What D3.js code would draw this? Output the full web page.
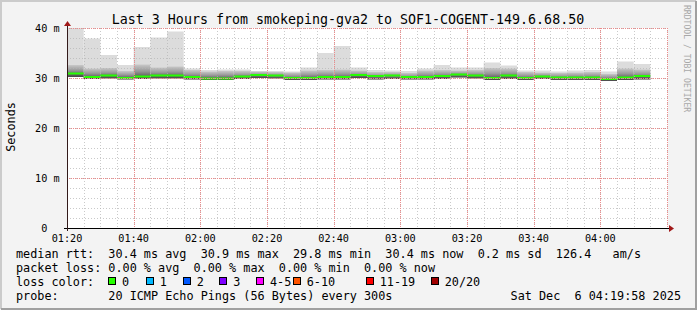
<!DOCTYPE html>
<html>
<head>
<meta charset="utf-8">
<script src="https://cdn.jsdelivr.net/npm/d3@7"></script>
<style>
	body { margin: 0; background: #f3f3f3; }
	text { font-family: "DejaVu Sans Mono", monospace; white-space: pre; }
</style>
</head>
<body>
<div id="graph"></div>
<script>
//---------------- data ----------------------
var stepStarts = ["01:20", "01:25", "01:30", "01:35", "01:40", "01:45", "01:50", "01:55",
	"02:00", "02:05", "02:10", "02:15", "02:20", "02:25", "02:30", "02:35",
	"02:40", "02:45", "02:50", "02:55", "03:00", "03:05", "03:10", "03:15",
	"03:20", "03:25", "03:30", "03:35", "03:40", "03:45", "03:50", "03:55",
	"04:00", "04:05", "04:10"];

// median rtt per step (ms)
var medians = [30.9, 30.2, 30.5, 30.0, 30.3, 30.5, 30.5, 30.2,
	29.9, 29.9, 30.3, 30.6, 30.5, 30.0, 30.0, 30.2,
	30.2, 30.6, 30.4, 30.5, 30.2, 30.2, 30.4, 30.7,
	30.5, 30.0, 30.5, 30.0, 30.3, 30.1, 30.1, 30.1,
	29.8, 30.1, 30.4];

// highest ping per step (top of the smoke)
var maxes = [40.5, 37.9, 34.6, 32.6, 36.2, 38.1, 39.3, 31.9,
	31.6, 31.7, 31.7, 31.4, 31.4, 31.3, 32.1, 35.0,
	36.4, 32.1, 31.6, 31.5, 31.4, 31.9, 32.6, 32.1,
	32.1, 33.1, 32.5, 31.5, 31.5, 31.3, 31.5, 31.6,
	31.3, 33.3, 32.8];

// upper edge of the dense part of the smoke
var uppers = [32.6, 31.9, 32.0, 31.4, 32.7, 32.1, 32.3, 31.6,
	31.3, 31.4, 31.4, 31.3, 31.2, 31.1, 31.5, 31.6,
	31.7, 31.5, 31.2, 31.2, 31.0, 31.5, 31.6, 31.5,
	31.6, 32.0, 31.9, 31.2, 31.1, 31.0, 31.1, 31.2,
	30.8, 31.9, 31.7];

// lowest ping per step
var lowers = [30.2, 29.8, 29.9, 29.7, 29.8, 29.9, 29.9, 29.7,
	29.6, 29.6, 29.8, 30.0, 29.9, 29.6, 29.6, 29.7,
	29.7, 30.0, 29.7, 29.8, 29.7, 29.7, 29.8, 30.1,
	29.9, 29.6, 29.8, 29.6, 29.8, 29.6, 29.6, 29.6,
	29.4, 29.6, 29.7];

var yTicks = [0, 10, 20, 30, 40];
var yTickLabels = [" 0", "10 m", "20 m", "30 m", "40 m"];
var xTickLabels = ["01:20", "01:40", "02:00", "02:20", "02:40", "03:00", "03:20", "03:40", "04:00"];

var lossLabels = ["0", "1", "2", "3", "4-5", "6-10", "11-19", "20/20"];
var lossColors = ["#26ff00", "#00b8ff", "#0059ff", "#7e00ff", "#ff00ff", "#ff5500", "#ff0000", "#a00000"];
var lossBoxX = [108, 145.7, 182.7, 219.3, 256, 292.7, 365.7, 430.7];

var titleText = "Last 3 Hours from smokeping-gva2 to SOF1-COGENT-149.6.68.50";
var legendLines = [
	"median rtt:  30.4 ms avg  30.9 ms max  29.8 ms min  30.4 ms now  0.2 ms sd  126.4   am/s",
	"packet loss: 0.00 % avg  0.00 % max  0.00 % min  0.00 % now",
	"loss color:",
	"probe:       20 ICMP Echo Pings (56 Bytes) every 300s"
];
var stampText = "Sat Dec  6 04:19:58 2025";

//---------------- sizes ----------------------
var w = 697;
var h = 310;
var plotLeft = 67;
var plotRight = 667;
var plotTop = 28;
var plotBottom = 228;

var parseTime = function(s) {
	var p = s.split(":");
	return new Date(Date.UTC(2025, 11, 6, +p[0], +p[1]));
};

//---------------- scales ----------------------
var xScale = d3.scaleUtc()
	.domain([parseTime("01:20"), parseTime("04:20")])
	.range([plotLeft, plotRight]);

var yScale = d3.scaleLinear()
	.domain([0, 40])
	.range([plotBottom, plotTop]);

var svg = d3.select("#graph").append("svg")
	.attr("width", w)
	.attr("height", h);

var defs = svg.append("defs");
var grad = defs.append("linearGradient")
	.attr("id", "smoke")
	.attr("x1", 0).attr("y1", 0).attr("x2", 0).attr("y2", 1);
grad.append("stop").attr("offset", "0%").attr("stop-color", "#c8c8c8");
grad.append("stop").attr("offset", "45%").attr("stop-color", "#999999");
grad.append("stop").attr("offset", "75%").attr("stop-color", "#6a6a6a");
grad.append("stop").attr("offset", "100%").attr("stop-color", "#444444");

defs.append("clipPath").attr("id", "canvasClip")
	.append("rect")
	.attr("x", plotLeft).attr("y", plotTop)
	.attr("width", plotRight - plotLeft + 1).attr("height", plotBottom - plotTop);

//---------------- frame ----------------------
svg.append("rect")
	.attr("x", 0).attr("y", 0)
	.attr("width", w).attr("height", h)
	.attr("fill", "#f3f3f3");
svg.append("path")
	.attr("d", "M1," + (h - 1) + "V1H" + (w - 1))
	.attr("fill", "none").attr("stroke", "#cbcbcb").attr("stroke-width", 2);
svg.append("path")
	.attr("d", "M" + (w - 1) + ",1V" + (h - 1) + "H1")
	.attr("fill", "none").attr("stroke", "#a0a0a0").attr("stroke-width", 2);

// canvas
svg.append("rect")
	.attr("x", plotLeft).attr("y", plotTop)
	.attr("width", plotRight - plotLeft + 1).attr("height", plotBottom - plotTop)
	.attr("fill", "#ffffff");

//---------------- smoke ----------------------
var stepW = xScale(parseTime("01:25")) - xScale(parseTime("01:20"));
var plot = svg.append("g").attr("clip-path", "url(#canvasClip)");

plot.selectAll("rect.outer")
	.data(stepStarts)
	.enter()
	.append("rect")
	.attr("class", "outer")
	.attr("x", function(d) { return xScale(parseTime(d)); })
	.attr("y", function(d, i) { return yScale(maxes[i]); })
	.attr("width", stepW)
	.attr("height", function(d, i) { return yScale(lowers[i]) - yScale(maxes[i]); })
	.attr("fill", "#dcdcdc");

plot.selectAll("rect.inner")
	.data(stepStarts)
	.enter()
	.append("rect")
	.attr("class", "inner")
	.attr("x", function(d) { return xScale(parseTime(d)); })
	.attr("y", function(d, i) { return yScale(uppers[i]); })
	.attr("width", stepW)
	.attr("height", function(d, i) { return yScale(lowers[i]) - yScale(uppers[i]); })
	.attr("fill", "url(#smoke)");

// median, coloured by loss (all 0 loss here)
plot.selectAll("rect.median")
	.data(stepStarts)
	.enter()
	.append("rect")
	.attr("class", "median")
	.attr("x", function(d) { return xScale(parseTime(d)); })
	.attr("y", function(d, i) { return yScale(medians[i]) - 1; })
	.attr("width", stepW)
	.attr("height", 2)
	.attr("fill", lossColors[0]);

//---------------- grid ----------------------
var grid = svg.append("g");
var minorX = xScale.ticks(d3.utcMinute.every(5));
var minorY = d3.range(0, 41, 2);

grid.selectAll("line.mx")
	.data(minorX)
	.enter()
	.append("line")
	.attr("x1", function(d) { return Math.round(xScale(d)) + 0.5; })
	.attr("x2", function(d) { return Math.round(xScale(d)) + 0.5; })
	.attr("y1", plotTop).attr("y2", plotBottom)
	.attr("stroke", "#b4b4b4").attr("stroke-opacity", 0.7)
	.attr("stroke-dasharray", "1,2");

grid.selectAll("line.my")
	.data(minorY)
	.enter()
	.append("line")
	.attr("y1", function(d) { return Math.round(yScale(d)) + 0.5; })
	.attr("y2", function(d) { return Math.round(yScale(d)) + 0.5; })
	.attr("x1", plotLeft).attr("x2", plotRight + 1)
	.attr("stroke", "#b4b4b4").attr("stroke-opacity", 0.7)
	.attr("stroke-dasharray", "1,2");

grid.selectAll("line.Mx")
	.data(xScale.ticks(d3.utcMinute.every(20)))
	.enter()
	.append("line")
	.attr("x1", function(d) { return Math.round(xScale(d)) + 0.5; })
	.attr("x2", function(d) { return Math.round(xScale(d)) + 0.5; })
	.attr("y1", plotTop).attr("y2", plotBottom)
	.attr("stroke", "#ec8a8a")
	.attr("stroke-dasharray", "1,1");

grid.selectAll("line.My")
	.data(yTicks)
	.enter()
	.append("line")
	.attr("y1", function(d) { return Math.round(yScale(d)) + 0.5; })
	.attr("y2", function(d) { return Math.round(yScale(d)) + 0.5; })
	.attr("x1", plotLeft).attr("x2", plotRight + 1)
	.attr("stroke", "#ec8a8a")
	.attr("stroke-dasharray", "1,1");

//---------------- axes ----------------------
svg.append("line")
	.attr("x1", plotLeft - 3).attr("x2", plotRight + 3)
	.attr("y1", plotBottom + 0.5).attr("y2", plotBottom + 0.5)
	.attr("stroke", "#000000");
svg.append("line")
	.attr("x1", plotLeft + 0.5).attr("x2", plotLeft + 0.5)
	.attr("y1", plotBottom + 3).attr("y2", plotTop - 4)
	.attr("stroke", "#331a1a");
svg.append("path")
	.attr("d", "M" + (plotRight + 2) + "," + (plotBottom - 3) + "L" + (plotRight + 7) + "," + (plotBottom + 0.5) + "L" + (plotRight + 2) + "," + (plotBottom + 4) + "Z")
	.attr("fill", "#a01818");
svg.append("path")
	.attr("d", "M" + (plotLeft - 3) + "," + (plotTop - 2) + "L" + (plotLeft + 0.5) + "," + (plotTop - 7) + "L" + (plotLeft + 4) + "," + (plotTop - 2) + "Z")
	.attr("fill", "#a01818");

svg.selectAll("text.ytick")
	.data(yTicks)
	.enter()
	.append("text")
	.attr("class", "ytick")
	.attr("x", 35)
	.attr("y", function(d) { return yScale(d) + 3.5; })
	.style("font-size", "10.2px")
	.text(function(d, i) { return yTickLabels[i]; });

svg.selectAll("text.xtick")
	.data(xTickLabels)
	.enter()
	.append("text")
	.attr("class", "xtick")
	.attr("x", function(d) { return xScale(parseTime(d)); })
	.attr("y", 241.5)
	.attr("text-anchor", "middle")
	.style("font-size", "10.2px")
	.text(function(d) { return d; });

//---------------- titles ----------------------
svg.append("text")
	.attr("x", 348)
	.attr("y", 23.5)
	.attr("text-anchor", "middle")
	.style("font-size", "13.3px")
	.text(titleText);

svg.append("text")
	.attr("transform", "translate(15,127) rotate(-90)")
	.attr("text-anchor", "middle")
	.style("font-size", "11.8px")
	.text("Seconds");

svg.append("text")
	.attr("transform", "translate(684,5) rotate(90)")
	.style("font-size", "8.1px")
	.attr("fill", "#a8a8a8")
	.text("RRDTOOL / TOBI OETIKER");

//---------------- legend ----------------------
svg.selectAll("text.legend")
	.data(legendLines)
	.enter()
	.append("text")
	.attr("class", "legend")
	.attr("x", 16)
	.attr("y", function(d, i) { return 257.5 + i * 14; })
	.style("font-size", "11.8px")
	.text(function(d) { return d; });

svg.selectAll("rect.lossbox")
	.data(lossLabels)
	.enter()
	.append("rect")
	.attr("class", "lossbox")
	.attr("x", function(d, i) { return Math.round(lossBoxX[i]) + 0.5; })
	.attr("y", 277.5)
	.attr("width", 7)
	.attr("height", 7)
	.attr("fill", function(d, i) { return lossColors[i]; })
	.attr("stroke", "#000000");

svg.selectAll("text.losslabel")
	.data(lossLabels)
	.enter()
	.append("text")
	.attr("class", "losslabel")
	.attr("x", function(d, i) { return lossBoxX[i] + 14; })
	.attr("y", 285.5)
	.style("font-size", "11.8px")
	.text(function(d) { return d; });

svg.append("text")
	.attr("x", 681)
	.attr("y", 299.5)
	.attr("text-anchor", "end")
	.style("font-size", "11.8px")
	.text(stampText);
</script>
</body>
</html>
